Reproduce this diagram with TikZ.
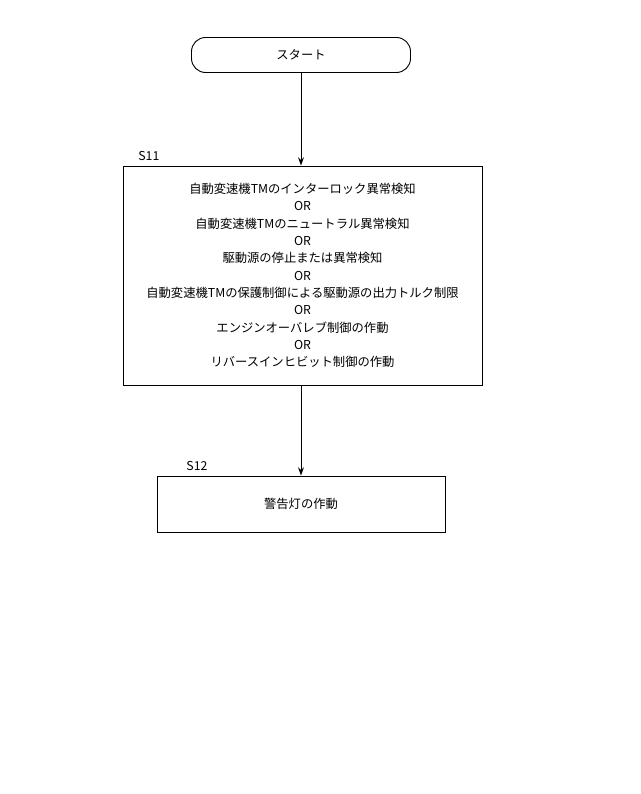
\documentclass[tikz,border=0pt]{standalone}
\usepackage{fontspec}
\setmainfont{Noto Sans CJK JP}
\usetikzlibrary{positioning,arrows.meta}
\begin{document}
\begin{tikzpicture}[x=0.03cm,y=-0.03cm,
    every node/.style={font=\fontsize{10.5}{14.8}\selectfont},
    stepbox/.style={draw,thick,align=center,inner sep=0pt},
    arr/.style={-{Stealth[length=7pt,width=5pt]},thick}]
  \useasboundingbox (0,0) rectangle (640,794);
  % Start
  \node[stepbox,rounded corners=12pt,minimum width=219*0.03cm,minimum height=35*0.03cm] (start) at (301,55) {スタート};
  % S11
  \node[stepbox,minimum width=359*0.03cm,minimum height=219*0.03cm] (s11) at (302.5,275.5)
    {自動変速機TMのインターロック異常検知\\OR\\自動変速機TMのニュートラル異常検知\\OR\\駆動源の停止または異常検知\\OR\\自動変速機TMの保護制御による駆動源の出力トルク制限\\OR\\エンジンオーバレブ制御の作動\\OR\\リバースインヒビット制御の作動};
  \node[above right=1pt and 10pt of s11.north west,anchor=south west] (l11) {S11};
  % S12
  \node[stepbox,minimum width=288*0.03cm,minimum height=56*0.03cm] (s12) at (301,504) {警告灯の作動};
  \node[above right=1pt and 22pt of s12.north west,anchor=south west] (l12) {S12};
  % Connectors
  \draw[arr] (start) -- (start |- s11.north);
  \draw[arr] (s12 |- s11.south) -- (s12);
\end{tikzpicture}
\end{document}
